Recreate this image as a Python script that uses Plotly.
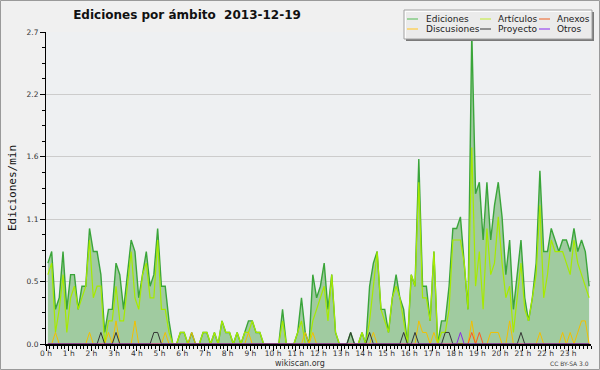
import plotly.graph_objects as go

# ---------------- data (10-minute buckets, edits per minute) ----------------
hour_labels = ["0 h", "1 h", "2 h", "3 h", "4 h", "5 h", "6 h", "7 h", "8 h", "9 h",
               "10 h", "11 h", "12 h", "13 h", "14 h", "15 h", "16 h", "17 h", "18 h",
               "19 h", "20 h", "21 h", "22 h", "23 h"]
y_tick_values = [0.0, 0.54, 1.08, 1.62, 2.16, 2.7]
y_tick_labels = ["0.0", "0.5", "1.1", "1.6", "2.2", "2.7"]

ediciones = [
    0.7, 0.8, 0.3, 0.4, 0.8, 0.3, 0.6, 0.6, 0.3, 0.5, 0.5, 1.0,
    0.8, 0.8, 0.6, 0.1, 0.3, 0.3, 0.7, 0.6, 0.3, 0.6, 0.9, 0.8,
    0.4, 0.6, 0.8, 0.5, 0.6, 1.0, 0.5, 0.5, 0.2, 0.0, 0.0, 0.1,
    0.1, 0.0, 0.1, 0.0, 0.0, 0.1, 0.1, 0.0, 0.1, 0.0, 0.2, 0.1,
    0.1, 0.0, 0.1, 0.0, 0.1, 0.2, 0.2, 0.1, 0.1, 0.0, 0.0, 0.0,
    0.0, 0.0, 0.3, 0.0, 0.0, 0.0, 0.1, 0.4, 0.1, 0.0, 0.6, 0.4,
    0.5, 0.7, 0.3, 0.6, 0.1, 0.0, 0.0, 0.0, 0.1, 0.0, 0.0, 0.1,
    0.0, 0.5, 0.7, 0.8, 0.3, 0.3, 0.1, 0.4, 0.6, 0.4, 0.3, 0.0,
    0.6, 0.5, 1.6, 0.5, 0.5, 0.2, 0.8, 0.0, 0.2, 0.2, 0.5, 1.0,
    1.0, 1.1, 0.7, 0.3, 2.7, 1.3, 1.4, 0.9, 1.4, 0.9, 1.2, 1.4,
    1.1, 0.6, 0.9, 0.3, 0.6, 0.9, 0.4, 0.2, 0.4, 0.7, 1.5, 0.8,
    0.8, 1.0, 0.9, 0.8, 0.9, 0.9, 0.8, 1.0, 0.8, 0.9, 0.8, 0.5,
]
articulos = [
    0.6, 0.7, 0.1, 0.3, 0.6, 0.1, 0.4, 0.5, 0.3, 0.4, 0.5, 0.9,
    0.4, 0.5, 0.5, 0.0, 0.2, 0.2, 0.5, 0.2, 0.2, 0.5, 0.8, 0.4,
    0.3, 0.6, 0.7, 0.4, 0.4, 0.9, 0.3, 0.3, 0.1, 0.0, 0.0, 0.1,
    0.1, 0.0, 0.0, 0.0, 0.0, 0.1, 0.1, 0.0, 0.1, 0.0, 0.2, 0.1,
    0.1, 0.0, 0.1, 0.0, 0.1, 0.1, 0.2, 0.1, 0.1, 0.0, 0.0, 0.0,
    0.0, 0.0, 0.2, 0.0, 0.0, 0.0, 0.1, 0.2, 0.0, 0.0, 0.2, 0.3,
    0.4, 0.5, 0.2, 0.6, 0.1, 0.0, 0.0, 0.0, 0.0, 0.0, 0.0, 0.1,
    0.0, 0.2, 0.5, 0.8, 0.3, 0.2, 0.1, 0.4, 0.5, 0.4, 0.2, 0.0,
    0.6, 0.5, 1.4, 0.4, 0.4, 0.2, 0.8, 0.0, 0.1, 0.1, 0.3, 0.9,
    0.9, 0.9, 0.7, 0.3, 1.7, 0.5, 0.8, 0.3, 1.0, 0.6, 0.7, 1.1,
    0.7, 0.4, 0.5, 0.1, 0.4, 0.7, 0.3, 0.2, 0.4, 0.6, 1.2, 0.4,
    0.6, 0.9, 0.8, 0.8, 0.8, 0.7, 0.6, 0.9, 0.7, 0.6, 0.5, 0.4,
]
discusiones = [
    0.0, 0.0, 0.1, 0.0, 0.0, 0.0, 0.0, 0.0, 0.0, 0.0, 0.0, 0.1,
    0.0, 0.0, 0.0, 0.0, 0.1, 0.0, 0.2, 0.0, 0.0, 0.0, 0.0, 0.2,
    0.0, 0.0, 0.0, 0.0, 0.0, 0.0, 0.0, 0.1, 0.0, 0.0, 0.0, 0.0,
    0.0, 0.0, 0.1, 0.0, 0.0, 0.0, 0.0, 0.0, 0.0, 0.0, 0.0, 0.0,
    0.0, 0.0, 0.0, 0.0, 0.0, 0.1, 0.0, 0.0, 0.0, 0.0, 0.0, 0.0,
    0.0, 0.0, 0.0, 0.0, 0.0, 0.0, 0.0, 0.0, 0.1, 0.0, 0.1, 0.0,
    0.0, 0.0, 0.0, 0.0, 0.0, 0.0, 0.0, 0.0, 0.0, 0.0, 0.0, 0.0,
    0.0, 0.0, 0.1, 0.0, 0.0, 0.0, 0.0, 0.0, 0.0, 0.0, 0.0, 0.0,
    0.0, 0.0, 0.2, 0.1, 0.1, 0.0, 0.1, 0.0, 0.0, 0.0, 0.0, 0.0,
    0.0, 0.0, 0.0, 0.0, 0.2, 0.0, 0.0, 0.0, 0.0, 0.1, 0.1, 0.1,
    0.0, 0.0, 0.2, 0.0, 0.0, 0.0, 0.0, 0.0, 0.0, 0.0, 0.1, 0.0,
    0.0, 0.0, 0.0, 0.0, 0.1, 0.0, 0.1, 0.0, 0.1, 0.2, 0.2, 0.0,
]
proyecto = [
    0.0, 0.0, 0.0, 0.0, 0.0, 0.0, 0.0, 0.0, 0.0, 0.0, 0.0, 0.0,
    0.0, 0.0, 0.1, 0.0, 0.0, 0.0, 0.1, 0.0, 0.0, 0.0, 0.0, 0.0,
    0.0, 0.0, 0.0, 0.0, 0.1, 0.1, 0.0, 0.0, 0.0, 0.0, 0.0, 0.0,
    0.0, 0.0, 0.0, 0.0, 0.0, 0.0, 0.0, 0.0, 0.0, 0.0, 0.0, 0.0,
    0.0, 0.0, 0.0, 0.0, 0.0, 0.0, 0.0, 0.0, 0.0, 0.0, 0.0, 0.0,
    0.0, 0.0, 0.0, 0.0, 0.0, 0.0, 0.0, 0.0, 0.0, 0.0, 0.0, 0.0,
    0.0, 0.0, 0.0, 0.0, 0.0, 0.0, 0.0, 0.0, 0.1, 0.0, 0.0, 0.0,
    0.0, 0.1, 0.0, 0.0, 0.0, 0.0, 0.0, 0.0, 0.0, 0.0, 0.1, 0.0,
    0.0, 0.1, 0.0, 0.0, 0.0, 0.0, 0.0, 0.0, 0.0, 0.1, 0.1, 0.0,
    0.0, 0.0, 0.0, 0.0, 0.0, 0.0, 0.0, 0.0, 0.0, 0.0, 0.0, 0.0,
    0.0, 0.0, 0.0, 0.0, 0.0, 0.1, 0.0, 0.0, 0.0, 0.0, 0.0, 0.0,
    0.0, 0.0, 0.0, 0.0, 0.0, 0.0, 0.0, 0.0, 0.0, 0.0, 0.0, 0.0,
]
anexos = [
    0.0, 0.0, 0.0, 0.0, 0.0, 0.0, 0.0, 0.0, 0.0, 0.0, 0.0, 0.0,
    0.0, 0.0, 0.0, 0.0, 0.0, 0.0, 0.0, 0.0, 0.0, 0.0, 0.0, 0.0,
    0.0, 0.0, 0.0, 0.0, 0.0, 0.0, 0.0, 0.0, 0.0, 0.0, 0.0, 0.0,
    0.0, 0.0, 0.0, 0.0, 0.0, 0.0, 0.0, 0.0, 0.0, 0.0, 0.0, 0.0,
    0.0, 0.0, 0.0, 0.0, 0.0, 0.0, 0.0, 0.0, 0.0, 0.0, 0.0, 0.0,
    0.0, 0.0, 0.0, 0.0, 0.0, 0.0, 0.0, 0.0, 0.0, 0.0, 0.0, 0.0,
    0.0, 0.0, 0.0, 0.0, 0.0, 0.0, 0.0, 0.0, 0.0, 0.0, 0.0, 0.0,
    0.0, 0.0, 0.0, 0.0, 0.0, 0.0, 0.0, 0.0, 0.0, 0.0, 0.0, 0.0,
    0.0, 0.0, 0.0, 0.0, 0.0, 0.0, 0.0, 0.0, 0.0, 0.0, 0.0, 0.0,
    0.0, 0.0, 0.0, 0.0, 0.1, 0.0, 0.1, 0.0, 0.0, 0.0, 0.0, 0.0,
    0.0, 0.0, 0.0, 0.0, 0.0, 0.0, 0.0, 0.0, 0.0, 0.0, 0.0, 0.0,
    0.0, 0.0, 0.0, 0.0, 0.0, 0.0, 0.0, 0.0, 0.0, 0.0, 0.0, 0.0,
]
otros = [
    0.0, 0.0, 0.0, 0.0, 0.0, 0.0, 0.0, 0.0, 0.0, 0.0, 0.0, 0.0,
    0.0, 0.0, 0.0, 0.0, 0.0, 0.0, 0.0, 0.0, 0.0, 0.0, 0.0, 0.0,
    0.0, 0.0, 0.0, 0.0, 0.0, 0.0, 0.0, 0.0, 0.0, 0.0, 0.0, 0.0,
    0.0, 0.0, 0.0, 0.0, 0.0, 0.0, 0.0, 0.0, 0.0, 0.0, 0.0, 0.0,
    0.0, 0.0, 0.0, 0.0, 0.0, 0.0, 0.0, 0.0, 0.0, 0.0, 0.0, 0.0,
    0.0, 0.0, 0.0, 0.0, 0.0, 0.0, 0.0, 0.0, 0.0, 0.0, 0.0, 0.0,
    0.0, 0.0, 0.0, 0.0, 0.0, 0.0, 0.0, 0.0, 0.0, 0.0, 0.0, 0.0,
    0.0, 0.0, 0.0, 0.0, 0.0, 0.0, 0.0, 0.0, 0.0, 0.0, 0.0, 0.0,
    0.0, 0.0, 0.0, 0.0, 0.0, 0.0, 0.0, 0.0, 0.0, 0.0, 0.0, 0.0,
    0.0, 0.1, 0.0, 0.0, 0.0, 0.0, 0.0, 0.0, 0.0, 0.0, 0.0, 0.0,
    0.0, 0.0, 0.0, 0.0, 0.0, 0.0, 0.0, 0.0, 0.0, 0.0, 0.0, 0.0,
    0.0, 0.0, 0.0, 0.0, 0.0, 0.0, 0.0, 0.0, 0.0, 0.0, 0.0, 0.0,
]

# bucket centres in minutes of the day (10-minute buckets)
minutes = [i * 10 + 5 for i in range(len(ediciones))]
hour_ticks = [h * 60 for h in range(len(hour_labels))]

# ---------------- figure ----------------
W, H = 600, 370
L, R, T, B = 46, 9, 32, 26
PW, PH = W - L - R, H - T - B


def px(x):
    return (x - L) / PW


def py(y):
    return (H - B - y) / PH


FONT = "DejaVu Sans, Verdana, sans-serif"

series = [
    ("Artículos", articulos, "#a6ea00", 1.2),
    ("Discusiones", discusiones, "#f2c000", 1.0),
    ("Anexos", anexos, "#ff5a1e", 1.0),
    ("Proyecto", proyecto, "#333333", 1.0),
    ("Otros", otros, "#8a2be2", 1.0),
]

fig = go.Figure()
fig.add_trace(go.Scatter(
    x=minutes, y=ediciones, name="Ediciones", mode="lines",
    line=dict(color="#3aa53a", width=1.4), fill="tozeroy",
    fillcolor="#a0cba0", showlegend=False, hoverinfo="skip"))
for name, vals, color, width in series:
    fig.add_trace(go.Scatter(
        x=minutes, y=vals, name=name, mode="lines",
        line=dict(color=color, width=width), showlegend=False,
        hoverinfo="skip"))

# --- legend box drawn as layout shapes and text ---
legend_items = [
    ("Ediciones", "#6cc46c", 0, 0), ("Artículos", "#c8ec50", 1, 0),
    ("Anexos", "#ee7744", 2, 0), ("Discusiones", "#ffcc40", 0, 1),
    ("Proyecto", "#555555", 1, 1), ("Otros", "#9a4cf0", 2, 1),
]
col_glyph = [407, 480, 539]
col_text = [424, 496, 555]
row_y = [19, 29]

shapes = [
    # outer frame
    dict(type="rect", xref="paper", yref="paper",
         x0=px(0.5), x1=px(599.5), y0=py(369.5), y1=py(0.5),
         line=dict(color="#9a9a9a", width=1), fillcolor="rgba(0,0,0,0)",
         layer="above"),
    # legend shadow
    dict(type="rect", xref="paper", yref="paper",
         x0=px(406), x1=px(594), y0=py(41), y1=py(12),
         line=dict(width=0), fillcolor="#7a7a7a", layer="above"),
    # legend box
    dict(type="rect", xref="paper", yref="paper",
         x0=px(404), x1=px(592), y0=py(39), y1=py(10),
         line=dict(color="#a0a0a0", width=1),
         fillcolor="rgba(255,255,255,0.85)", layer="above"),
]
annotations = []
for name, color, c, r in legend_items:
    shapes.append(dict(type="line", xref="paper", yref="paper",
                       x0=px(col_glyph[c]), x1=px(col_glyph[c] + 11),
                       y0=py(row_y[r]), y1=py(row_y[r]),
                       line=dict(color=color, width=1.2), layer="above"))
    annotations.append(dict(text=name, xref="paper", yref="paper",
                            x=px(col_text[c]), y=py(row_y[r]),
                            xanchor="left", yanchor="middle", showarrow=False,
                            font=dict(family=FONT, size=9, color="#222222")))

annotations += [
    dict(text="wikiscan.org", xref="paper", yref="paper", x=px(300), y=py(363.5),
         xanchor="center", yanchor="middle", showarrow=False,
         font=dict(family=FONT, size=8, color="#333333")),
    dict(text="CC BY-SA 3.0", xref="paper", yref="paper", x=px(591), y=py(363.5),
         xanchor="right", yanchor="middle", showarrow=False,
         font=dict(family=FONT, size=6, color="#444444")),
]

fig.update_layout(
    width=W, height=H,
    margin=dict(l=L, r=R, t=T, b=B, pad=0),
    paper_bgcolor="#f0f0f0",
    plot_bgcolor="#eef0f2",
    font=dict(family=FONT, size=8, color="#333333"),
    title=dict(text="Ediciones por ámbito \u00a02013-12-19",
               x=187 / W, xanchor="center", y=1 - 15 / H, yanchor="middle",
               font=dict(family="DejaVu Sans, sans-serif", size=12,
                         color="#111111", weight="bold")),
    showlegend=False,
    shapes=shapes,
    annotations=annotations,
    xaxis=dict(
        range=[0, 1440], tickmode="array", tickvals=hour_ticks,
        ticktext=hour_labels, ticks="outside", ticklen=5, tickwidth=1,
        tickcolor="#000000", showline=True, linecolor="#000000", linewidth=2,
        showgrid=False, zeroline=False, ticklabelstandoff=-4,
        tickfont=dict(family=FONT, size=7.5, color="#333333"),
        minor=dict(tickmode="linear", tick0=0, dtick=10, ticks="outside",
                   ticklen=3, tickcolor="#000000", tickwidth=1, showgrid=False),
    ),
    yaxis=dict(
        range=[0, 2.7], tickmode="array", tickvals=y_tick_values,
        ticktext=y_tick_labels, ticks="outside", ticklen=5, tickwidth=1,
        tickcolor="#000000", showline=True, linecolor="#000000", linewidth=1,
        showgrid=True, gridcolor="#cccccc", gridwidth=1, zeroline=False,
        tickfont=dict(family=FONT, size=7.5, color="#333333"),
        title=dict(text="Ediciones/min", standoff=7,
                   font=dict(family="DejaVu Sans Mono, monospace", size=11,
                             color="#111111")),
        minor=dict(tickmode="linear", tick0=0, dtick=0.135, ticks="outside",
                   ticklen=3, tickcolor="#000000", tickwidth=1, showgrid=False),
    ),
)

fig.write_html("out.html", config={"displayModeBar": False},
               post_script="document.body.style.margin='0';"
                           "document.body.style.overflow='hidden';")
